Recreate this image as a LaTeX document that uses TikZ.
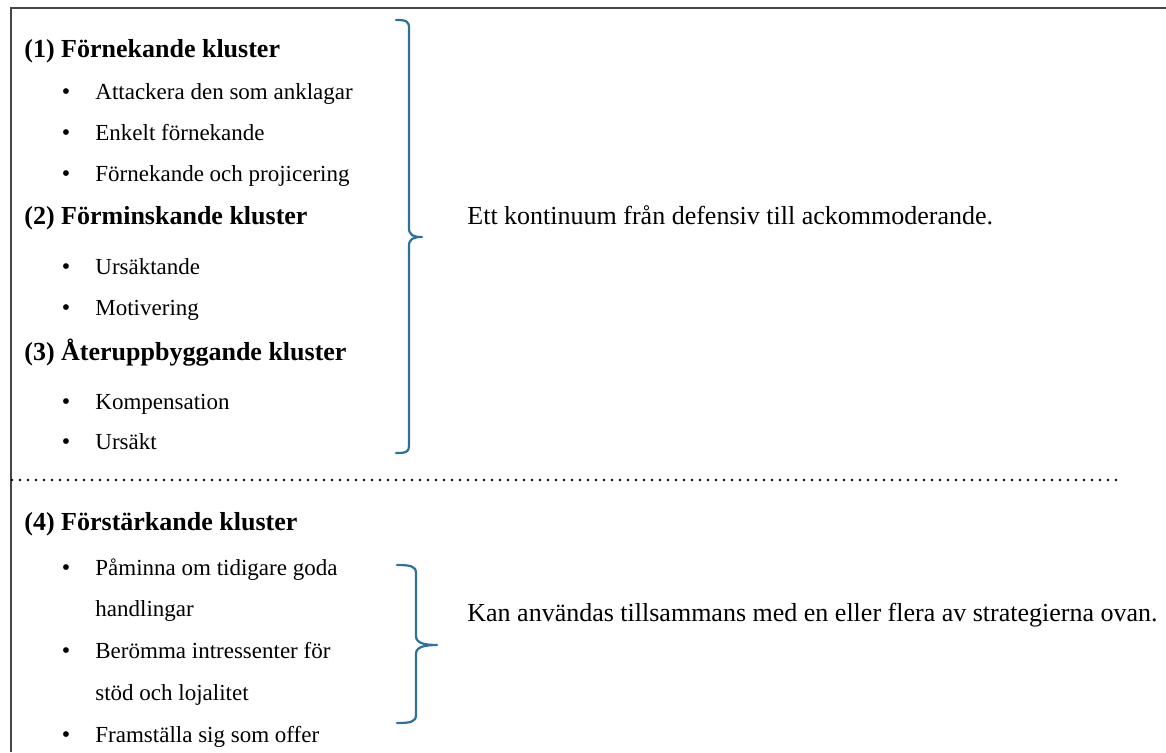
\documentclass[tikz,border=0pt]{standalone}
\usepackage{fontspec}
\setmainfont{Liberation Serif}
\definecolor{bracecol}{RGB}{46,112,150}
\definecolor{framecol}{RGB}{70,70,70}
\begin{document}
\begin{tikzpicture}[x=0.5pt,y=-0.5pt,
  txt/.style={anchor=base west,inner sep=0pt,font=\fontsize{11.5}{14}\selectfont},
  side/.style={anchor=base west,inner sep=0pt,font=\fontsize{13}{15}\selectfont},
  head/.style={anchor=base west,inner sep=0pt,font=\fontsize{13}{15}\selectfont\bfseries},
  bul/.style={anchor=base,inner sep=0pt,font=\fontsize{12}{14}\selectfont},
  bracestyle/.style={draw=bracecol,line width=1.1pt,line cap=round,line join=round},
  framestyle/.style={draw=framecol,line width=1pt},
  dotline/.style={draw=black,line width=1.3pt,line cap=round,dash pattern=on 0pt off 4pt}]
\useasboundingbox (0,0) rectangle (1166,752);
% frame (top and left edges only)
\coordinate (fl) at (11,752);
\coordinate (ftl) at (11,8);
\coordinate (ftr) at (1166,8);
\draw[framestyle] (fl) -- (ftl) -- (ftr);
% cluster 1
\node[head] (h1) at (24,57) {(1) Förnekande kluster};
\node[bul] (b11) at (66,99) {•};   \node[txt] (i11) at (95,99) {Attackera den som anklagar};
\node[bul] (b12) at (66,140) {•};  \node[txt] (i12) at (95,140) {Enkelt förnekande};
\node[bul] (b13) at (66,181) {•};  \node[txt] (i13) at (95,181) {Förnekande och projicering};
% cluster 2
\node[head] (h2) at (24,224) {(2) Förminskande kluster};
\node[bul] (b21) at (66,274) {•};  \node[txt] (i21) at (95,274) {Ursäktande};
\node[bul] (b22) at (66,315) {•};  \node[txt] (i22) at (95,315) {Motivering};
% cluster 3
\node[head] (h3) at (24,360) {(3) Återuppbyggande kluster};
\node[bul] (b31) at (66,409) {•};  \node[txt] (i31) at (95,409) {Kompensation};
\node[bul] (b32) at (66,449) {•};  \node[txt] (i32) at (95,449) {Ursäkt};
% brace 1
\draw[bracestyle] (396,20) .. controls (406,20) and (409,21) .. (409,28)
  -- (409,228) .. controls (409,235) and (413,237) .. (422,237)
  .. controls (413,237) and (409,239) .. (409,246)
  -- (409,446) .. controls (409,452) and (406,453) .. (396,453);
\coordinate (tip1) at (422,237);
\node[side] (t1) at (467,224) {Ett kontinuum från defensiv till ackommoderande.};
% dotted separator
\coordinate (d1) at (12,480);
\coordinate (d2) at (1121,480);
\draw[dotline] (d1) -- (d2);
% cluster 4
\node[head] (h4) at (24,530) {(4) Förstärkande kluster};
\node[bul] (b41) at (66,575) {•};  \node[txt] (i41) at (95,575) {Påminna om tidigare goda};
\node[txt] (i41b) at (95,616) {handlingar};
\node[bul] (b42) at (66,658) {•};  \node[txt] (i42) at (95,658) {Berömma intressenter för};
\node[txt] (i42b) at (95,700) {stöd och lojalitet};
\node[bul] (b43) at (66,742) {•};  \node[txt] (i43) at (95,742) {Framställa sig som offer};
% brace 2
\draw[bracestyle] (397,565) .. controls (410,565) and (416,566) .. (416,573)
  -- (416,636) .. controls (416,643) and (424,645) .. (437,645)
  .. controls (424,645) and (416,647) .. (416,654)
  -- (416,715) .. controls (416,722) and (410,723) .. (397,723);
\coordinate (tip2) at (437,645);
\node[side] (t2) at (467,621) {Kan användas tillsammans med en eller flera av strategierna ovan.};
\end{tikzpicture}
\end{document}
